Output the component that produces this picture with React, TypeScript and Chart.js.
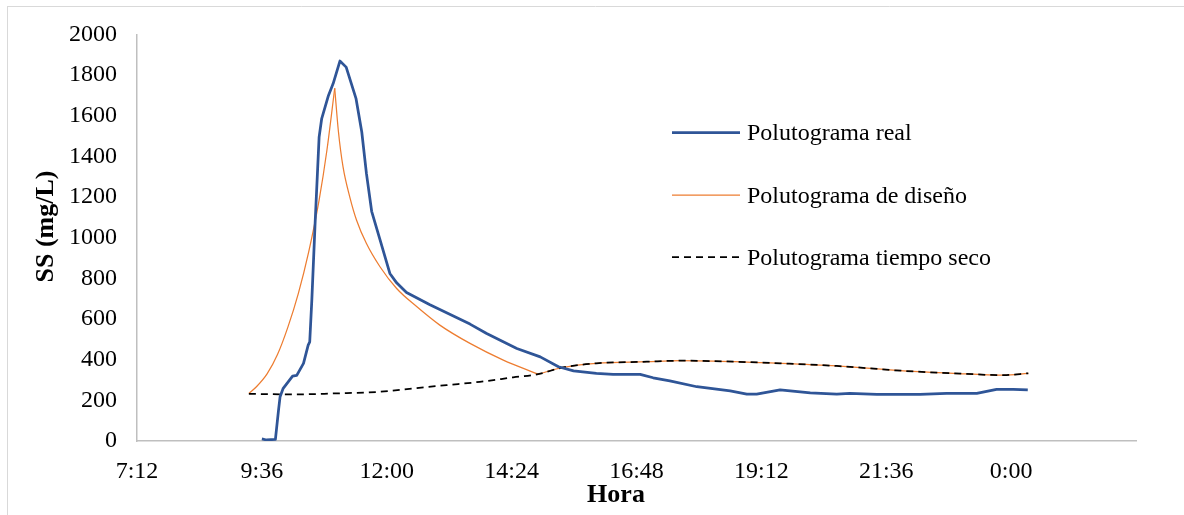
import React, { useEffect, useRef } from 'react';
import { Chart, registerables } from 'chart.js';

Chart.register(...registerables);

// ---- Data (hours of day; values >24 are the next day) ----
const tReal = [
  9.6, 9.69, 9.86, 9.92, 9.95, 10.01, 10.19, 10.27, 10.4, 10.49, 10.52, 10.56, 10.62, 10.7, 10.75,
  10.88, 10.97, 11.1, 11.22, 11.41, 11.52, 11.61, 11.71, 11.87, 12.06, 12.19, 12.38, 12.83, 13.6,
  13.92, 14.5, 14.95, 15.3, 15.59, 16.03, 16.35, 16.87, 17.12, 17.44, 17.96, 18.6, 18.92, 19.11,
  19.56, 20.14, 20.65, 20.9, 21.42, 22.25, 22.76, 23.34, 23.72, 24.04, 24.32,
];
const ssReal = [
  10, 5, 8, 152, 218, 259, 319, 323, 382, 472, 488, 693, 1053, 1495, 1586,
  1700, 1758, 1869, 1839, 1684, 1520, 1315, 1130, 990, 824, 778, 730, 670, 575,
  529, 455, 414, 365, 345, 333, 328, 328, 311, 296, 267, 247, 231, 231,
  251, 237, 231, 234, 229, 229, 234, 234, 254, 254, 251,
];

// design pollutograph: rising limb, falling limb, tail (on the dry-weather curve)
const tDesignRise = [9.35, 9.5, 9.7, 9.9, 10.1, 10.3, 10.5, 10.7, 10.85, 11.0];
const ssDesignRise = [234, 268, 330, 425, 560, 725, 930, 1185, 1430, 1735];
const tDesignFall = [11.0, 11.07, 11.16, 11.29, 11.42, 11.61, 11.87, 12.19, 12.58, 13.02, 13.6, 14.24, 14.91];
const ssDesignFall = [1735, 1525, 1348, 1200, 1086, 971, 857, 750, 660, 570, 480, 398, 329];
const tDesignTail = [14.91, 15.39, 16.03, 17.0, 17.64, 18.28, 19.56, 20.65, 21.93, 22.89, 23.85, 24.33];
const ssDesignTail = [329, 362, 382, 390, 395, 393, 382, 369, 345, 333, 324, 333];

const tDry = [
  9.35, 10.2, 11.0, 11.87, 12.51, 13.15, 13.79, 14.43, 14.91,
  15.39, 16.03, 17.0, 17.64, 18.28, 19.56, 20.65, 21.93, 22.89, 23.85, 24.33,
];
const ssDry = [
  232, 229, 234, 242, 259, 275, 291, 313, 329,
  362, 382, 390, 395, 393, 382, 369, 345, 333, 324, 333,
];

const xTickHours = [7.2, 9.6, 12, 14.4, 16.8, 19.2, 21.6, 24, 26.4];
const xTickLabels = ['7:12', '9:36', '12:00', '14:24', '16:48', '19:12', '21:36', '0:00', ''];
const yTickValues = [0, 200, 400, 600, 800, 1000, 1200, 1400, 1600, 1800, 2000];

const seriesNames = ['Polutograma real', 'Polutograma de diseño', 'Polutograma tiempo seco'];
const xTitle = 'Hora';
const yTitle = 'SS (mg/L)';

const FONT = "'Liberation Serif', 'Times New Roman', Times, serif";

const BLUE = { color: '#2F5597', width: 2.75, dash: [] as number[] };
const ORANGE = { color: '#ED7D31', width: 1.25, dash: [] as number[] };
const BLACK = { color: '#000000', width: 1.75, dash: [7, 5] };
const legendStyles = [BLUE, ORANGE, BLACK];

const pts = (xs: number[], ys: number[]) => xs.map((x, i) => ({ x, y: ys[i] }));

const decorPlugin = {
  id: 'decor',
  beforeDraw(chart: any) {
    const ctx = chart.ctx;
    ctx.save();
    ctx.strokeStyle = '#d9d9d9';
    ctx.lineWidth = 1;
    ctx.beginPath();
    ctx.moveTo(7, 6.5);
    ctx.lineTo(chart.width, 6.5);
    ctx.moveTo(7.5, 6);
    ctx.lineTo(7.5, chart.height);
    ctx.stroke();
    ctx.restore();
  },
  afterDraw(chart: any) {
    const ctx = chart.ctx;
    ctx.save();
    ctx.fillStyle = '#000';
    ctx.font = `bold 26px ${FONT}`;
    ctx.textAlign = 'center';
    ctx.textBaseline = 'alphabetic';
    ctx.fillText(xTitle, 616, 502);
    ctx.save();
    ctx.translate(53, 226.5);
    ctx.rotate(-Math.PI / 2);
    ctx.fillText(yTitle, 0, 0);
    ctx.restore();

    const lineY = [132.5, 195, 257];
    const textY = [140, 203, 265];
    ctx.font = `24px ${FONT}`;
    ctx.textAlign = 'left';
    legendStyles.forEach((st, i) => {
      ctx.save();
      ctx.strokeStyle = st.color;
      ctx.lineWidth = st.width;
      ctx.setLineDash(st.dash);
      ctx.beginPath();
      ctx.moveTo(672, lineY[i]);
      ctx.lineTo(740, lineY[i]);
      ctx.stroke();
      ctx.restore();
      ctx.fillStyle = '#000';
      ctx.fillText(seriesNames[i], 747, textY[i]);
    });
    ctx.restore();
  },
};

export default function App() {
  const canvasRef = useRef<HTMLCanvasElement | null>(null);

  useEffect(() => {
    if (!canvasRef.current) return;
    const orangeBase = {
      borderColor: ORANGE.color,
      backgroundColor: ORANGE.color,
      borderWidth: ORANGE.width,
      pointRadius: 0,
      cubicInterpolationMode: 'monotone' as const,
      order: 2,
    };
    const chart = new Chart(canvasRef.current, {
      type: 'line',
      data: {
        datasets: [
          {
            label: seriesNames[0],
            data: pts(tReal, ssReal),
            borderColor: BLUE.color,
            backgroundColor: BLUE.color,
            borderWidth: BLUE.width,
            pointRadius: 0,
            tension: 0,
            order: 0,
            borderJoinStyle: 'round',
          },
          { label: seriesNames[1], data: pts(tDesignRise, ssDesignRise), ...orangeBase },
          { label: seriesNames[1], data: pts(tDesignFall, ssDesignFall), ...orangeBase },
          { label: seriesNames[1], data: pts(tDesignTail, ssDesignTail), ...orangeBase },
          {
            label: seriesNames[2],
            data: pts(tDry, ssDry),
            borderColor: BLACK.color,
            backgroundColor: BLACK.color,
            borderWidth: BLACK.width,
            borderDash: BLACK.dash,
            pointRadius: 0,
            cubicInterpolationMode: 'monotone',
            order: 1,
          },
        ],
      },
      options: {
        animation: false,
        responsive: true,
        maintainAspectRatio: false,
        layout: { padding: { left: 0, top: 34, right: 48, bottom: 0 } },
        plugins: {
          legend: { display: false },
          tooltip: { enabled: false },
          title: { display: false },
        },
        scales: {
          x: {
            type: 'linear',
            min: 7.2,
            max: 26.4,
            grid: { display: false, drawTicks: false },
            border: { display: true, color: '#bfbfbf', width: 1.5 },
            afterBuildTicks: (scale: any) => {
              scale.ticks = xTickHours.map((v) => ({ value: v }));
            },
            afterFit: (scale: any) => {
              scale.height = 74;
            },
            ticks: {
              autoSkip: false,
              maxRotation: 0,
              padding: 16,
              color: '#000',
              font: { family: FONT, size: 24 },
              callback: (_v: any, i: number) => xTickLabels[i],
            },
          },
          y: {
            type: 'linear',
            min: 0,
            max: 2000,
            grid: { display: false, drawTicks: false },
            border: { display: true, color: '#bfbfbf', width: 1.5 },
            afterBuildTicks: (scale: any) => {
              scale.ticks = yTickValues.map((v) => ({ value: v }));
            },
            afterFit: (scale: any) => {
              scale.width = 137;
            },
            ticks: {
              padding: 20,
              color: '#000',
              font: { family: FONT, size: 24 },
              callback: (v: any) => String(v),
            },
          },
        },
      },
      plugins: [decorPlugin],
    });
    return () => chart.destroy();
  }, []);

  return (
    <div style={{ position: 'fixed', left: 0, top: 0, width: 1184, height: 515, background: '#fff' }}>
      <canvas ref={canvasRef} />
    </div>
  );
}
